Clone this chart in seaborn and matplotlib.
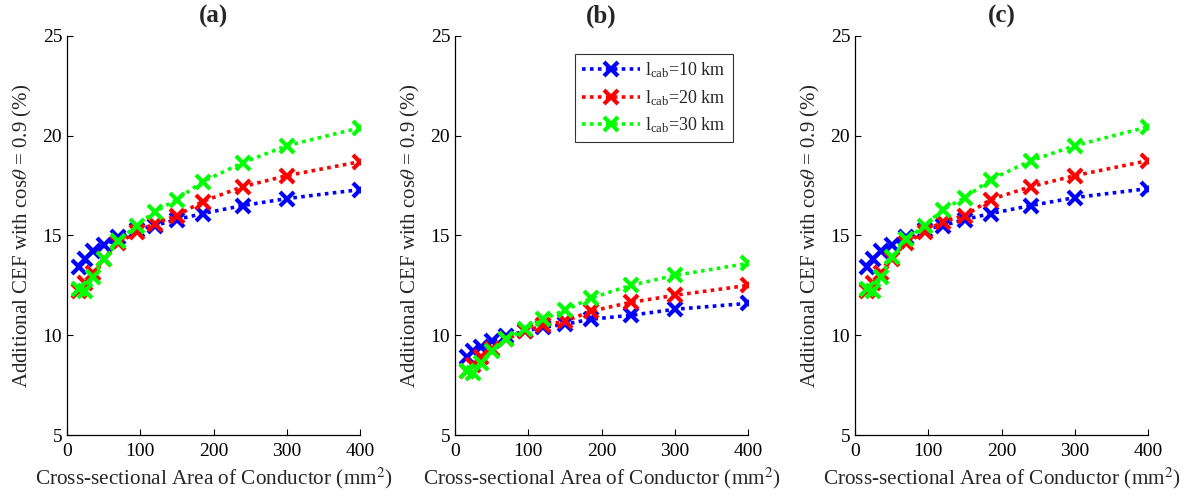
import matplotlib
matplotlib.use("Agg")
import matplotlib.pyplot as plt
import seaborn as sns
import pandas as pd

# conductor cross-sections (mm^2)
area = [16, 25, 35, 50, 70, 95, 120, 150, 185, 240, 300, 400]

# panel (a)
a_10 = [13.4, 13.8, 14.2, 14.5, 14.9, 15.3, 15.5, 15.8, 16.1, 16.5, 16.85, 17.3]
a_20 = [12.2, 12.6, 13.1, 13.8, 14.6, 15.2, 15.6, 16.0, 16.7, 17.45, 18.0, 18.7]
a_30 = [12.3, 12.2, 12.9, 13.8, 14.7, 15.5, 16.2, 16.8, 17.7, 18.65, 19.5, 20.4]
# panel (b)
b_10 = [8.9, 9.2, 9.4, 9.7, 9.95, 10.2, 10.4, 10.55, 10.8, 11.0, 11.3, 11.6]
b_20 = [8.2, 8.5, 8.9, 9.3, 9.8, 10.2, 10.5, 10.7, 11.2, 11.65, 12.0, 12.5]
b_30 = [8.2, 8.1, 8.6, 9.2, 9.8, 10.3, 10.8, 11.25, 11.85, 12.5, 13.0, 13.6]
# panel (c)
c_10 = [13.4, 13.8, 14.2, 14.5, 14.9, 15.3, 15.5, 15.8, 16.1, 16.5, 16.9, 17.35]
c_20 = [12.2, 12.6, 13.1, 13.8, 14.6, 15.2, 15.7, 16.0, 16.8, 17.45, 18.0, 18.75]
c_30 = [12.3, 12.2, 12.9, 13.9, 14.8, 15.5, 16.3, 16.9, 17.8, 18.75, 19.5, 20.45]

lengths = ["10", "20", "30"]
colors = ["#0000ff", "#ff0000", "#00ff00"]
panels = ["(a)", "(b)", "(c)"]
data = [[a_10, a_20, a_30], [b_10, b_20, b_30], [c_10, c_20, c_30]]

sns.set_theme(style="ticks")
plt.rcParams["font.family"] = ["Liberation Serif", "DejaVu Serif"]
plt.rcParams["mathtext.fontset"] = "stix"
plt.rcParams["xtick.direction"] = "in"
plt.rcParams["ytick.direction"] = "in"

fig = plt.figure(figsize=(11.87, 4.96), dpi=100)
lefts = [67, 455, 855]
W, H = 1187, 496
for i, left in enumerate(lefts):
    ax = fig.add_axes([left / W, (H - 435) / H, 293 / W, 399 / H])
    for j, series in enumerate(data[i]):
        df = pd.DataFrame({"area": area, "cef": series})
        sns.lineplot(data=df, x="area", y="cef", ax=ax, color=colors[j],
                     linestyle=(0, (1, 1.2)), linewidth=2.6, marker="x",
                     markersize=10.5, markeredgewidth=3,
                     markeredgecolor=colors[j], markerfacecolor=colors[j],
                     label=r"$\mathregular{l_{cab}}$=" + lengths[j] + " km")
    ax.set_xlim(0, 400)
    ax.set_ylim(5, 25)
    ax.set_xticks([0, 100, 200, 300, 400])
    ax.set_yticks([5, 10, 15, 20, 25])
    ax.tick_params(labelsize=14, length=4, width=0.8, colors="black")
    ax.tick_params(axis="x", pad=6)
    for s in ["top", "right"]:
        ax.spines[s].set_visible(False)
    for s in ["left", "bottom"]:
        ax.spines[s].set_linewidth(0.9)
        ax.spines[s].set_color("black")
    ax.set_xlabel(r"Cross-sectional Area of Conductor (mm$^2$)", fontsize=15.3, labelpad=4)
    ax.set_ylabel(r"Additional CEF with cos$\theta$ = 0.9 (%)", fontsize=15, labelpad=6)
    ax.set_title(panels[i], fontsize=18, fontweight="bold", pad=10)
    if i == 1:
        leg = ax.legend(loc="upper right", bbox_to_anchor=(0.96, 0.965), fontsize=13,
                        frameon=True, fancybox=False, edgecolor="black",
                        handlelength=3.2, handletextpad=0.3, borderpad=0.4,
                        labelspacing=0.42, borderaxespad=0.2)
        leg.get_frame().set_linewidth(0.8)
    else:
        ax.get_legend().remove()

fig.savefig("out.png", dpi=100)
